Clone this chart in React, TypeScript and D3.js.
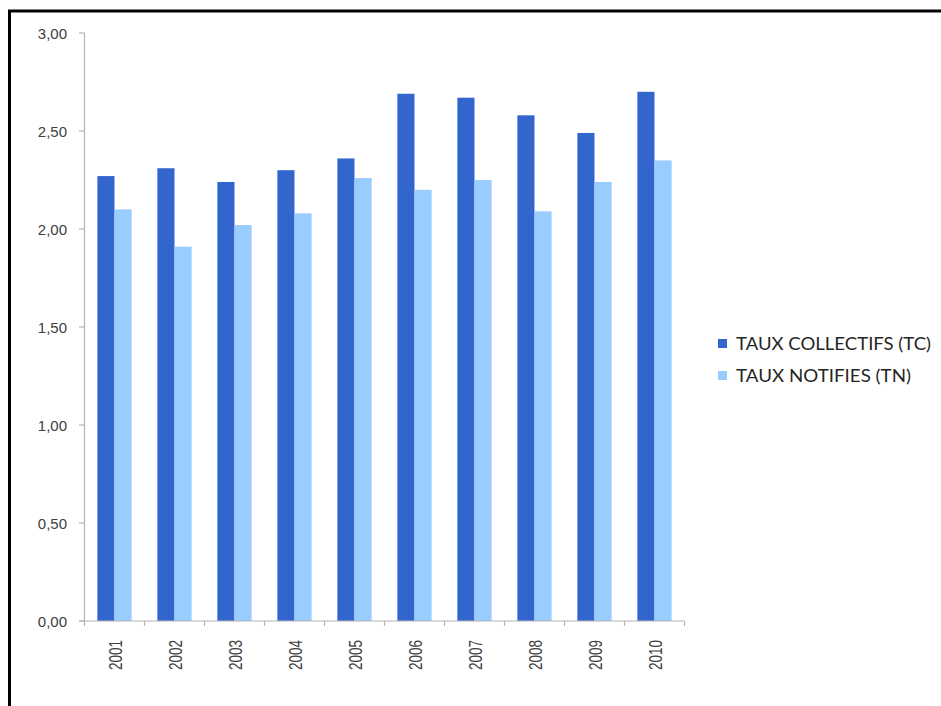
import React from "react";
import * as d3 from "d3";

const years = ["2001","2002","2003","2004","2005","2006","2007","2008","2009","2010"];
const tauxCollectifs = [2.27, 2.31, 2.24, 2.30, 2.36, 2.69, 2.67, 2.58, 2.49, 2.70];
const tauxNotifies = [2.10, 1.91, 2.02, 2.08, 2.26, 2.20, 2.25, 2.09, 2.24, 2.35];
const yTicks = [0, 0.5, 1, 1.5, 2, 2.5, 3];
const seriesNames = ["TAUX COLLECTIFS (TC)", "TAUX NOTIFIES (TN)"];
const seriesColors = ["#3366CC", "#99CCFF"];

export default function App() {
  const W = 941, H = 706;
  const x0 = 84.5, x1 = 684.5, yTop = 33, yBot = 621;
  const y = d3.scaleLinear().domain([0, 3]).range([yBot, yTop]);
  const x = d3.scaleBand<string>().domain(years).range([x0, x1]).paddingInner(0).paddingOuter(0);
  const bw = x.bandwidth();
  const barW = bw / 3.5;
  const inner = d3.scaleBand<number>().domain([0, 1]).range([(bw - 2 * barW) / 2, (bw + 2 * barW) / 2]);
  const series = [tauxCollectifs, tauxNotifies];
  const axisColor = "#b4b4b4";
  const fmt = (v: number) => v.toFixed(2).replace(".", ",");
  return (
    <svg width={W} height={H} style={{ position: "absolute", left: 0, top: 0, background: "#fff" }}>
      <rect x={0} y={0} width={W} height={H} fill="#fff" />
      <path d={`M9.5,${H + 5} L9.5,11 L${W + 5},11`} fill="none" stroke="#000" strokeWidth={3} />
      {series.map((vals, si) =>
        vals.map((v, i) => (
          <rect key={`${si}-${i}`} x={(x(years[i]) as number) + (inner(si) as number)} y={y(v)}
            width={barW} height={yBot - y(v)} fill={seriesColors[si]} />
        ))
      )}
      <line x1={x0} x2={x0} y1={yTop} y2={yBot} stroke={axisColor} strokeWidth={1.2} />
      <line x1={79} x2={x1} y1={yBot} y2={yBot} stroke={axisColor} strokeWidth={1.2} />
      {yTicks.map((t) => (
        <g key={t}>
          <line x1={79} x2={x0} y1={y(t)} y2={y(t)} stroke={axisColor} strokeWidth={1.2} />
          <text x={67} y={y(t) + 5.5} textAnchor="end" fontFamily="Liberation Sans, Arial, sans-serif"
            fontSize={15} fill="#404040">{fmt(t)}</text>
        </g>
      ))}
      {years.map((yr, i) => (
        <line key={`t${yr}`} x1={x(yr) as number} x2={x(yr) as number} y1={yBot} y2={yBot + 5} stroke={axisColor} strokeWidth={1.2} />
      ))}
      <line x1={x1} x2={x1} y1={yBot} y2={yBot + 5} stroke={axisColor} strokeWidth={1.2} />
      {years.map((yr) => {
        const cx = (x(yr) as number) + bw / 2;
        return (
          <text key={`l${yr}`} transform={`translate(${cx + 7},670) rotate(-90)`} textAnchor="start"
            fontFamily="Liberation Sans, Arial, sans-serif" fontSize={19} fill="#404040"
            textLength={30} lengthAdjust="spacingAndGlyphs">{yr}</text>
        );
      })}
      {seriesNames.map((name, i) => (
        <g key={name} transform={`translate(718,${339 + i * 32})`}>
          <rect x={0} y={0} width={9} height={9} fill={seriesColors[i]} />
          <text x={18} y={10.5} fontFamily="Lato, Open Sans, sans-serif" fontSize={17} fill="#262626"
            textLength={i === 0 ? 195 : 175} lengthAdjust="spacingAndGlyphs">{name}</text>
        </g>
      ))}
    </svg>
  );
}
